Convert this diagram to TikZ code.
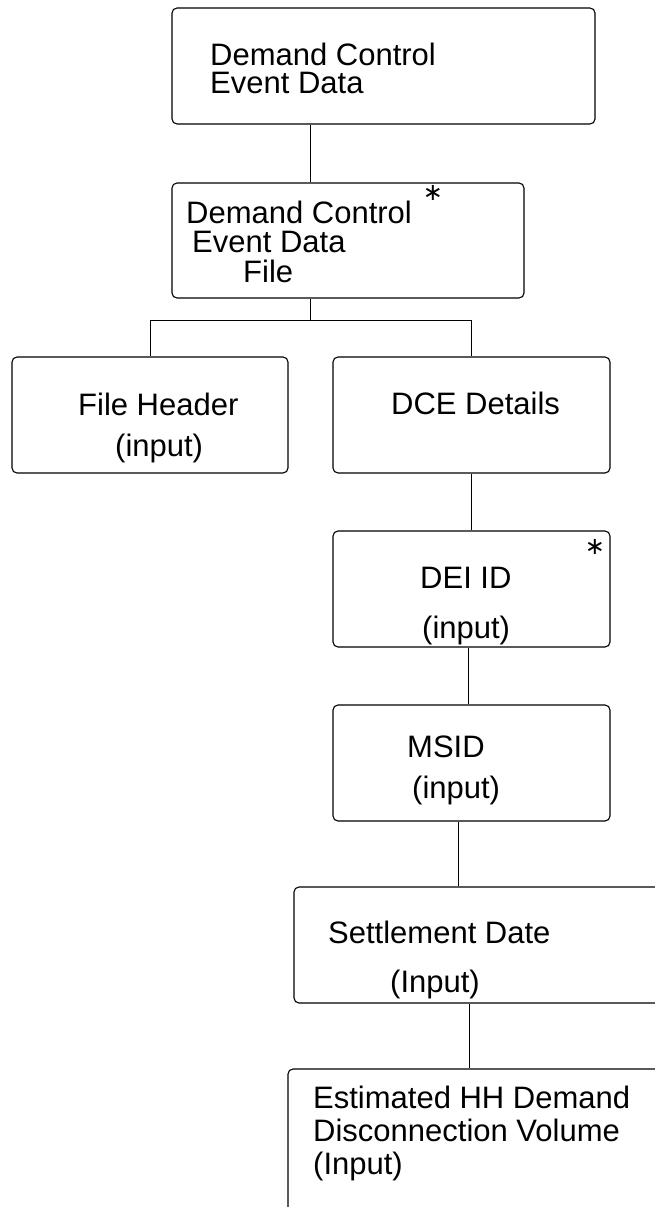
\documentclass[tikz,border=0pt]{standalone}
\usepackage{fontspec}
\setmainfont{Liberation Sans}
\newfontfamily\symfont{DejaVu Sans}
\begin{document}
\begin{tikzpicture}[x=1pt,y=-1pt,
    box/.style={draw,line width=1.1pt,rounded corners=5pt,inner sep=0pt},
    link/.style={draw,line width=1pt},
    words/.style={anchor=base west,align=left,inner sep=0pt,
        font=\fontsize{31}{#1}\selectfont},
    words/.default=31,
    stamp/.style={inner sep=0pt,font=\symfont\fontsize{24}{24}\selectfont}]
    \clip (0,0) rectangle (655,1207);
    \fill[white] (0,0) rectangle (655,1207);

    \node[box,minimum width=423pt,minimum height=116pt] (dced) at (383.5,66) {};
    \node[box,minimum width=352pt,minimum height=115pt] (dcefile) at (348,240.5) {};
    \node[box,minimum width=276pt,minimum height=116pt] (header) at (150,415) {};
    \node[box,minimum width=277pt,minimum height=116pt] (details) at (471.5,415) {};
    \node[box,minimum width=277pt,minimum height=116pt] (deiid) at (471.5,589) {};
    \node[box,minimum width=277pt,minimum height=116pt] (msid) at (471.5,763) {};
    \node[box,minimum width=406pt,minimum height=116pt] (sdate) at (497,945) {};
    \node[box,minimum width=412pt,minimum height=191pt] (volume) at (494,1164.5) {};

    \coordinate (trunk) at (310.5,0);
    \draw[link] (trunk |- dced.south) -- (trunk |- dcefile.north);
    \draw[link] (trunk |- dcefile.south) -- ++(0,22) coordinate (fork);
    \draw[link] (header.north) |- (fork) -| (details.north);
    \draw[link] (details.south) -- (deiid.north);
    \draw[link] ([xshift=-3pt]deiid.south) -- ([xshift=-3pt]deiid.south |- msid.north);
    \draw[link] ([xshift=-13.5pt]msid.south) -- ([xshift=-13.5pt]msid.south |- sdate.north);
    \draw[link] ([xshift=-28pt]sdate.south) -- ([xshift=-28pt]sdate.south |- volume.north);

    \node[words=28] (dcedtext) at (210,93) {Demand Control\\Event Data};
    \node[words=29.5] (dcefiletext) at (186,282)
        {Demand Control\\\hspace*{6pt}Event Data\\\hspace*{57pt}File};
    \node[words=41] (headertext) at (78,456) {File Header\\\hspace*{37pt}(input)};
    \node[words] (detailstext) at (391,414) {DCE Details};
    \node[words=50] (deiidtext) at (420,638) {DEI ID\\\hspace*{2pt}(input)};
    \node[words=41] (msidtext) at (407,798) {MSID\\\hspace*{5pt}(input)};
    \node[words=49] (sdatetext) at (328,992) {Settlement Date\\\hspace*{62pt}(Input)};
    \node[words=33] (volumetext) at (313,1174)
        {Estimated HH Demand\\Disconnection Volume\\(Input)};

    \node[stamp] (dcefilemark) at (433,193) {∗};
    \node[stamp] (deiidmark) at (595,547) {∗};
\end{tikzpicture}
\end{document}
